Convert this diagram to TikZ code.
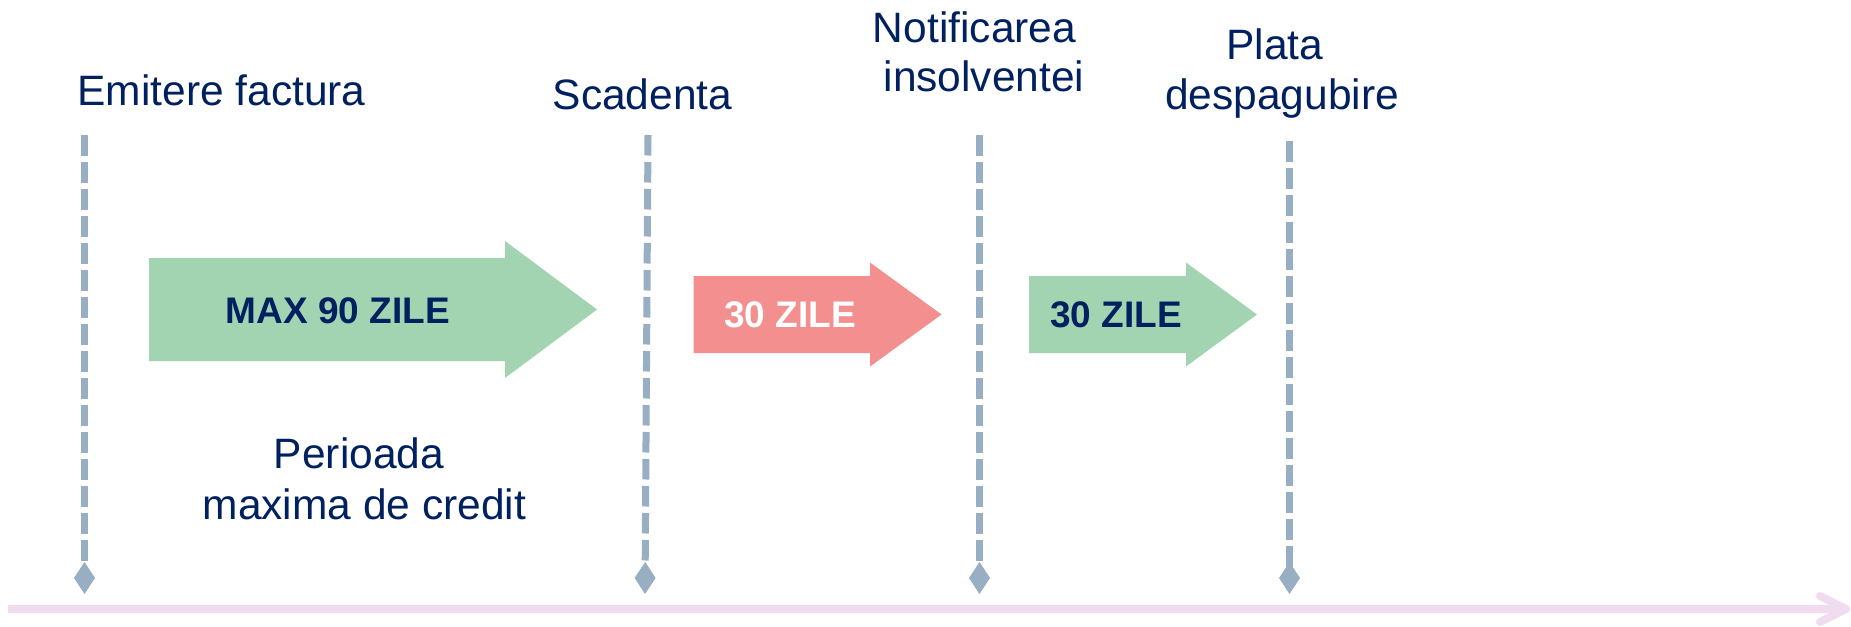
\documentclass[tikz,border=0pt]{standalone}
\usepackage{fontspec}
\setmainfont{Liberation Sans}
\usetikzlibrary{arrows.meta}
\definecolor{navy}{RGB}{0,32,96}
\definecolor{guidec}{RGB}{152,174,194}
\definecolor{greenc}{RGB}{163,212,177}
\definecolor{redc}{RGB}{244,143,143}
\definecolor{axisc}{RGB}{240,220,238}
\begin{document}
\begin{tikzpicture}[x=1pt,y=-1pt,
  guide/.style={draw=guidec, line width=7pt, dash pattern=on 20.5pt off 6.5pt,
    -{Diamond[length=32pt,width=21pt,line width=0pt]}},
  axisline/.style={draw=axisc, line width=8pt},
  lbl/.style={text=navy, font=\fontsize{42.5}{51}\selectfont, inner sep=0pt, anchor=base},
  tag/.style={font=\fontsize{37}{44}\selectfont\bfseries, inner sep=0pt, anchor=base}]
\useasboundingbox (0,0) rectangle (1851,626);

% guide lines
\coordinate (t1) at (84.5,135);  \coordinate (b1) at (84.5,594);
\coordinate (t2) at (648,135);   \coordinate (b2) at (645,594);
\coordinate (t3) at (979.5,135); \coordinate (b3) at (979.5,594);
\coordinate (t4) at (1289.5,141);\coordinate (b4) at (1289.5,594);
\draw[guide] (t1) -- (b1);
\draw[guide] (t2) -- (b2);
\draw[guide] (t3) -- (b3);
\draw[guide] (t4) -- (b4);

% timeline axis
\coordinate (ax0) at (8,609);
\coordinate (ax1) at (1846,609);
\coordinate (axu) at (1820,596);
\coordinate (axd) at (1820,622);
\draw[axisline] (ax0) -- (ax1);
\draw[axisline, line cap=round, line join=round] (axu) -- (ax1) -- (axd);

% block arrows
\fill[greenc] (149,258) -- (505,258) -- (505,241) -- (597,309.5) -- (505,378) -- (505,361) -- (149,361) -- cycle;
\fill[redc] (693.5,276) -- (870,276) -- (870,262.5) -- (941.5,314.5) -- (870,366.5) -- (870,353) -- (693.5,353) -- cycle;
\fill[greenc] (1029,276) -- (1186,276) -- (1186,262.5) -- (1257,314.5) -- (1186,366.5) -- (1186,353) -- (1029,353) -- cycle;

\node[tag, text=navy] (max90) at (338,323) {MAX 90 ZILE};
\node[tag, text=white] (z30a) at (790,327.5) {30 ZILE};
\node[tag, text=navy] (z30b) at (1116,327.5) {30 ZILE};

% labels
\node[lbl] (emit) at (221.5,105) {Emitere factura};
\node[lbl] (scad) at (642.5,109) {Scadenta};
\node[lbl] (notif1) at (974.5,42.7) {Notificarea};
\node[lbl] (notif2) at (984,91.7) {insolventei};
\node[lbl] (plata1) at (1275,59.3) {Plata};
\node[lbl] (plata2) at (1282,109) {despagubire};
\node[lbl] (per1) at (359,468) {Perioada};
\node[lbl] (per2) at (364.5,519) {maxima de credit};
\end{tikzpicture}
\end{document}
